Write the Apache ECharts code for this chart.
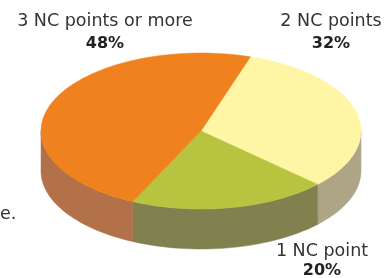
<!DOCTYPE html>
<html>
<head>
<meta charset="utf-8">
<script src="https://cdn.jsdelivr.net/npm/echarts@6/dist/echarts.min.js"></script>
<style>
html,body{margin:0;padding:0;background:#fff;}
#chart{width:390px;height:278px;}
</style>
</head>
<body>
<div id="chart"></div>
<script>
// ---- data ----
var categories = ['2 NC points', '1 NC point', '3 NC points or more'];
var values = [32, 20, 48];
var topColors = ['#FEF5A5', '#B8C43F', '#F0811F'];
var sideColors = ['#AEA587', '#80814F', '#B3714A'];
var strayText = 'e.';

// ---- layout ----
var CX = 201, CY = 131, RX = 160, RY = 78, DEPTH = 40, START = 72;
var total = values.reduce(function (a, b) { return a + b; }, 0);
var starts = [];
(function () { var acc = 0; for (var i = 0; i < values.length; i++) { starts.push(acc); acc += values[i]; } })();

function pt(tDeg, dy) {
  var t = tDeg * Math.PI / 180;
  return [CX + RX * Math.cos(t), CY - RY * Math.sin(t) + (dy || 0)];
}
function arcPts(a, b, dy) { // from a to b
  var n = Math.max(2, Math.ceil(Math.abs(b - a) / 2));
  var out = [];
  for (var i = 0; i <= n; i++) out.push(pt(a + (b - a) * i / n, dy));
  return out;
}

function renderItem(params, api) {
  var i = params.dataIndex;
  var t0 = START - starts[i] / total * 360;
  var t1 = START - (starts[i] + values[i]) / total * 360;
  var children = [];
  for (var k = -2; k <= 2; k++) {
    var lo = -180 + 360 * k, hi = 0 + 360 * k;
    var a = Math.max(t1, lo), b = Math.min(t0, hi);
    if (b > a) {
      var topE = arcPts(b, a, 0);
      var botE = arcPts(a, b, DEPTH);
      children.push({
        type: 'polygon', z2: 1,
        shape: { points: topE.concat(botE) },
        style: { fill: sideColors[i], stroke: sideColors[i], lineWidth: 0.5 }
      });
    }
  }
  var topPts = [[CX, CY]].concat(arcPts(t0, t1, 0));
  children.push({
    type: 'polygon', z2: 10,
    shape: { points: topPts },
    style: { fill: topColors[i], stroke: topColors[i], lineWidth: 0.5 }
  });
  return { type: 'group', children: children };
}

var labelPos = [
  { x: 331, y1: 21, y2: 44 },
  { x: 322, y1: 251, y2: 271 },
  { x: 105, y1: 21, y2: 44 }
];
var graphics = [];
categories.forEach(function (c, i) {
  graphics.push({ type: 'text', x: labelPos[i].x, y: labelPos[i].y1,
    style: { text: c, font: '17.5px "DejaVu Sans"', fill: '#333', align: 'center', verticalAlign: 'middle' } });
  graphics.push({ type: 'text', x: labelPos[i].x, y: labelPos[i].y2,
    style: { text: values[i] + '%', font: 'bold 16px "DejaVu Sans"', fill: '#222', align: 'center', verticalAlign: 'middle' } });
});
graphics.push({ type: 'text', x: 0, y: 214,
  style: { text: strayText, font: '17.5px "DejaVu Sans"', fill: '#333', align: 'left', verticalAlign: 'middle' } });

var chart = echarts.init(document.getElementById('chart'), null, { renderer: 'canvas' });
chart.setOption({
  animation: false,
  backgroundColor: '#fff',
  graphic: graphics,
  series: [{
    type: 'custom',
    coordinateSystem: 'none',
    renderItem: renderItem,
    data: values.map(function (v, i) { return { name: categories[i], value: v }; })
  }]
});
</script>
</body>
</html>
